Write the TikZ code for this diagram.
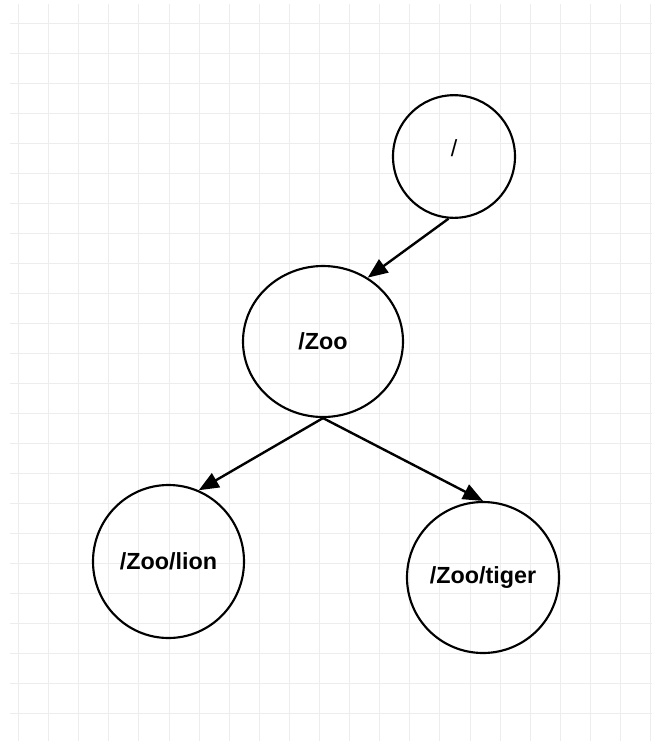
\documentclass[tikz,border=0pt]{standalone}
\usepackage{fontspec}
\setmainfont{Liberation Sans}
\usetikzlibrary{shapes.geometric,arrows.meta}
\tikzset{
  znode/.style={draw, ellipse, line width=1.6pt, inner sep=0pt, font=\fontsize{17.5}{20}\selectfont\bfseries},
  zarrow/.style={line width=1.8pt, -{Triangle[length=15pt,width=12pt]}},
}
\begin{document}
\begin{tikzpicture}[x=0.75pt,y=0.75pt,yscale=-1,xscale=1]
\useasboundingbox (0,0) rectangle (652,744);
% grid
\foreach \gx in {0,...,21}
  \draw [color=black!7, line width=0.75pt] ({18.5+30.1*\gx},4) -- ({18.5+30.1*\gx},741);
\foreach \gy in {0,...,23}
  \draw [color=black!7, line width=0.75pt] (10,{23+30*\gy}) -- (652,{23+30*\gy});
% tree
\node [znode, minimum width=91.5pt, minimum height=92pt, label={[font=\fontsize{17.5}{20}\selectfont, yshift=6pt]center:/}] (root) at (454,156.5) {};
\node [znode, minimum width=120pt, minimum height=113.25pt] (zoo) at (323,341.5) {/Zoo};
\node [znode, minimum width=113.25pt, minimum height=114.75pt] (lion) at (168.5,561.5) {/Zoo/lion};
\node [znode, minimum width=114pt, minimum height=113.25pt] (tiger) at (483,577.5) {/Zoo/tiger};
\draw [zarrow] (root.265) -- (zoo.55);
\draw [zarrow] (zoo.south) -- (lion.67);
\draw [zarrow] (zoo.south) -- (tiger.north);
\end{tikzpicture}
\end{document}
